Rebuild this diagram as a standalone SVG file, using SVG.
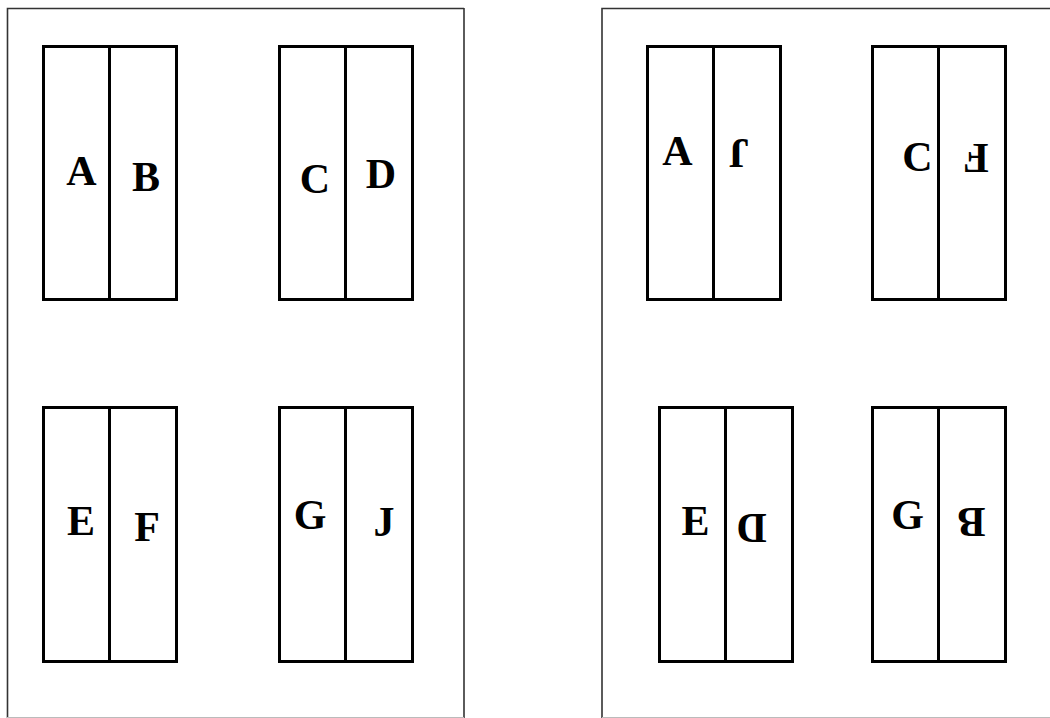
<svg xmlns="http://www.w3.org/2000/svg" width="1050" height="718" viewBox="0 0 1050 718">
  <style>
    .frame { fill: none; stroke: #333; stroke-width: 1.6; }
    .frame-bottom { fill: none; stroke: #bbb; stroke-width: 1; }
    .box { fill: none; stroke: #000; stroke-width: 3; }
    .lbl { font-family: "Liberation Serif", "Times New Roman", serif; font-weight: bold; font-size: 42px; fill: #000; text-anchor: middle; }
  </style>
  <rect width="1050" height="718" fill="#fff"/>

  <!-- page outlines -->
  <g id="page-left">
    <path class="frame" d="M7.5 718 V8.5 H464"/>
    <path class="frame" d="M464 8 V718"/>
    <path class="frame-bottom" d="M7 717.5 H464"/>
  </g>
  <g id="page-right">
    <path class="frame" d="M602 718 V8.5 H1050"/>
    <path class="frame-bottom" d="M602 717.5 H1050"/>
  </g>

  <!-- left page -->
  <g id="left-AB">
    <rect class="box" x="43.5" y="46.5" width="133" height="253"/>
    <line class="box" x1="109.5" y1="46.5" x2="109.5" y2="299.5"/>
    <text class="lbl" x="81.5" y="185">A</text>
    <text class="lbl" x="146" y="191">B</text>
  </g>
  <g id="left-CD">
    <rect class="box" x="279.5" y="46.5" width="133" height="253"/>
    <line class="box" x1="345.5" y1="46.5" x2="345.5" y2="299.5"/>
    <text class="lbl" x="315" y="193">C</text>
    <text class="lbl" x="381" y="188">D</text>
  </g>
  <g id="left-EF">
    <rect class="box" x="43.5" y="407.5" width="133" height="254"/>
    <line class="box" x1="109.5" y1="407.5" x2="109.5" y2="661.5"/>
    <text class="lbl" x="81" y="535">E</text>
    <text class="lbl" x="147" y="541">F</text>
  </g>
  <g id="left-GJ">
    <rect class="box" x="279.5" y="407.5" width="133" height="254"/>
    <line class="box" x1="345.5" y1="407.5" x2="345.5" y2="661.5"/>
    <text class="lbl" x="310" y="529">G</text>
    <text class="lbl" x="384" y="536">J</text>
  </g>

  <!-- right page -->
  <g id="right-AJ">
    <rect class="box" x="647.5" y="46.5" width="133" height="253"/>
    <line class="box" x1="713.5" y1="46.5" x2="713.5" y2="299.5"/>
    <text class="lbl" x="677.5" y="165">A</text>
    <text class="lbl" x="739" y="167" transform="rotate(180 739 153)">J</text>
  </g>
  <g id="right-CF">
    <rect class="box" x="872.5" y="46.5" width="133" height="253"/>
    <line class="box" x1="938.5" y1="46.5" x2="938.5" y2="299.5"/>
    <text class="lbl" x="917.5" y="171">C</text>
    <text class="lbl" x="976" y="172" transform="rotate(180 976 158)">F</text>
  </g>
  <g id="right-ED">
    <rect class="box" x="659.5" y="407.5" width="133" height="254"/>
    <line class="box" x1="725.5" y1="407.5" x2="725.5" y2="661.5"/>
    <text class="lbl" x="695.5" y="535">E</text>
    <text class="lbl" x="751.5" y="542" transform="rotate(180 751.5 528)">D</text>
  </g>
  <g id="right-GB">
    <rect class="box" x="872.5" y="407.5" width="133" height="254"/>
    <line class="box" x1="938.5" y1="407.5" x2="938.5" y2="661.5"/>
    <text class="lbl" x="907.5" y="529">G</text>
    <text class="lbl" x="971.5" y="536" transform="rotate(180 971.5 522)">B</text>
  </g>
</svg>
